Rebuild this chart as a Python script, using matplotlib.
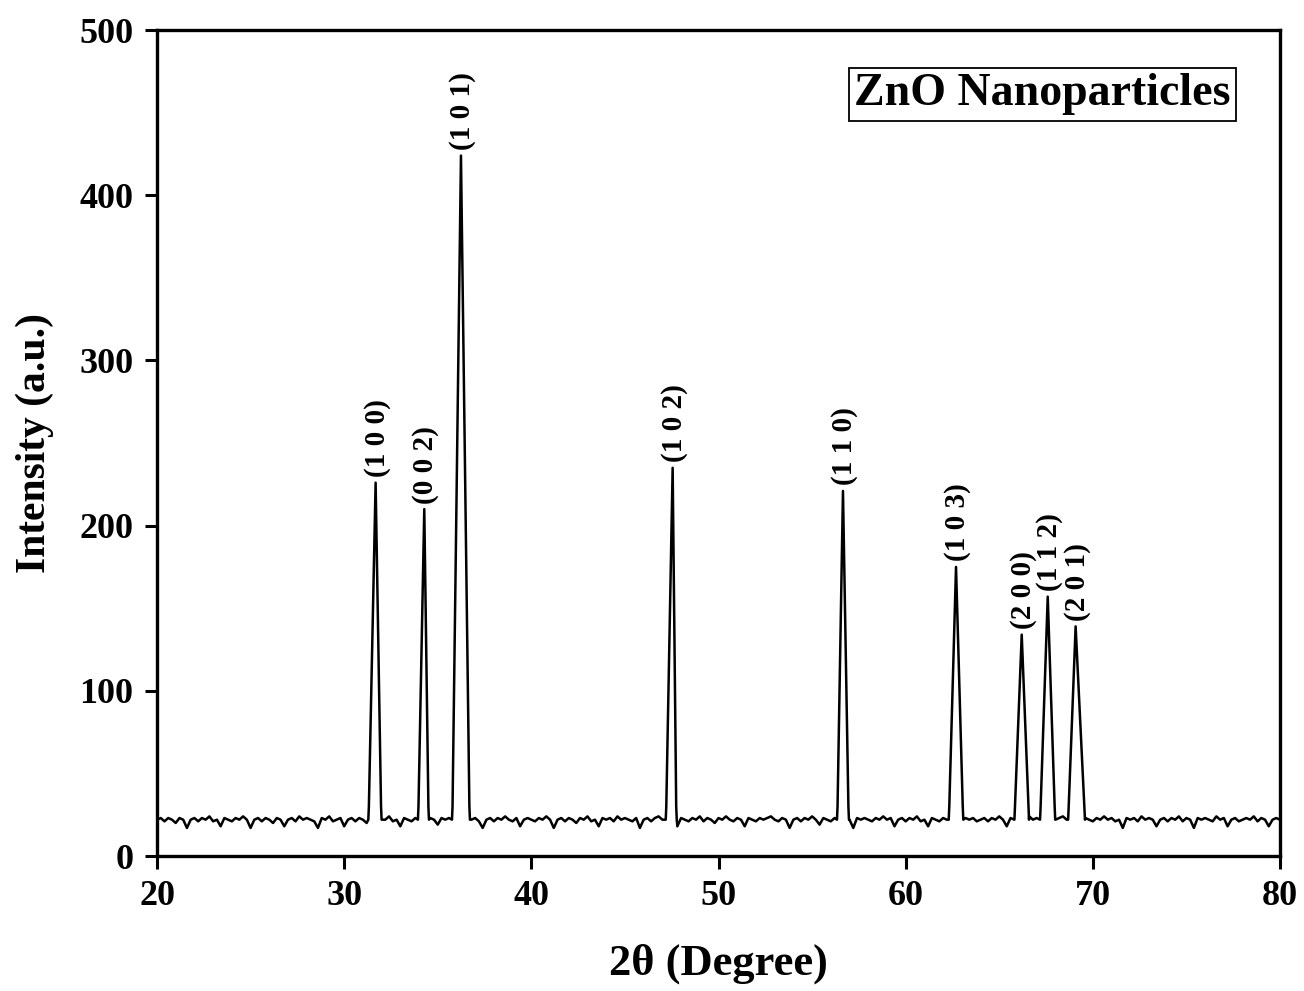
import numpy as np
import matplotlib
matplotlib.use("Agg")
import matplotlib.pyplot as plt

plt.rcParams['font.family'] = ['Liberation Serif', 'DejaVu Serif']
plt.rcParams['font.weight'] = 'bold'

# XRD peaks: hkl label, 2theta of apex, intensity, left/right foot
hkl = ['(1 0 0)', '(0 0 2)', '(1 0 1)', '(1 0 2)', '(1 1 0)', '(1 0 3)', '(2 0 0)', '(1 1 2)', '(2 0 1)']
pos = [31.68, 34.28, 36.24, 47.55, 56.65, 62.69, 66.20, 67.59, 69.08]
height = [226, 210, 424, 235, 221, 175, 134, 157, 139]
foot_l = [31.29, 33.94, 35.76, 47.18, 56.33, 62.30, 65.81, 67.18, 68.68]
foot_r = [32.00, 34.53, 36.72, 47.77, 56.97, 63.08, 66.59, 67.99, 69.58]

# background counts, every 0.2 degree from 20 to 80
baseline = [
    22, 23, 21, 23, 22, 20, 23, 22, 17, 22,
    23, 21, 23, 22, 24, 21, 22, 18, 23, 22,
    21, 23, 22, 24, 22, 17, 22, 23, 21, 23,
    22, 20, 23, 22, 18, 22, 23, 21, 24, 22,
    23, 22, 21, 17, 23, 22, 24, 21, 22, 23,
    18, 22, 23, 21, 23, 22, 20, 23, 17, 22,
    23, 22, 24, 21, 22, 18, 23, 22, 21, 23,
    22, 23, 21, 23, 22, 19, 23, 22, 23, 20,
    22, 24, 21, 23, 22, 23, 21, 17, 22, 23,
    21, 23, 22, 24, 22, 21, 23, 18, 22, 23,
    22, 21, 23, 22, 24, 22, 17, 22, 23, 21,
    23, 22, 20, 23, 22, 24, 21, 22, 18, 23,
    22, 23, 21, 24, 22, 23, 22, 21, 23, 17,
    22, 23, 21, 23, 24, 22, 23, 21, 22, 18,
    23, 22, 21, 23, 22, 24, 21, 23, 22, 20,
    23, 22, 24, 22, 21, 23, 22, 18, 23, 22,
    21, 23, 22, 23, 24, 22, 21, 23, 22, 17,
    22, 23, 21, 23, 22, 24, 22, 19, 23, 22,
    21, 23, 22, 24, 21, 22, 17, 23, 22, 23,
    22, 21, 23, 22, 24, 22, 23, 18, 22, 23,
    21, 23, 22, 24, 21, 22, 18, 23, 22, 21,
    23, 22, 24, 22, 21, 17, 23, 22, 23, 21,
    22, 23, 21, 23, 22, 24, 22, 18, 23, 22,
    23, 21, 22, 24, 22, 23, 17, 22, 23, 21,
    22, 23, 24, 22, 21, 23, 22, 18, 23, 22,
    21, 23, 22, 24, 22, 23, 21, 22, 17, 23,
    22, 23, 21, 24, 22, 23, 22, 18, 22, 23,
    21, 23, 22, 24, 21, 23, 22, 17, 23, 22,
    23, 22, 21, 24, 22, 23, 18, 22, 23, 21,
    22, 23, 22, 24, 21, 23, 22, 18, 22, 23,
    22,
]

x_base = 20 + 0.2 * np.arange(len(baseline))
y_base = np.array(baseline, dtype=float)

# drop background points that fall under a peak, then add the peak outlines
keep = np.ones(len(x_base), dtype=bool)
for l, r in zip(foot_l, foot_r):
    keep &= ~((x_base >= l) & (x_base <= r))
xs = list(x_base[keep])
ys = list(y_base[keep])
for p, h, l, r in zip(pos, height, foot_l, foot_r):
    xs += [l, l + 0.03, p, r - 0.03, r]
    ys += [22, 30, h, 30, 22]
order = np.argsort(xs)
xs = np.array(xs)[order]
ys = np.array(ys)[order]

fig = plt.figure(figsize=(13.04, 9.91), dpi=100)
ax = fig.add_axes([0.1204, 0.1362, 0.8612, 0.8335])
ax.plot(xs, ys, color='black', linewidth=1.8)

for lab, p, h in zip(hkl, pos, height):
    ax.annotate(lab, (p, h), xytext=(1, 4), textcoords='offset points',
                rotation=90, ha='center', va='bottom', fontsize=21, fontweight='bold')

ax.text(0.7885, 0.9225, 'ZnO Nanoparticles', transform=ax.transAxes,
        ha='center', va='center', fontsize=33, fontweight='bold',
        bbox=dict(boxstyle='square,pad=0.12', facecolor='white', edgecolor='black', linewidth=1.3))

ax.set_xlim(20, 80)
ax.set_ylim(0, 500)
ax.set_xticks(range(20, 81, 10))
ax.set_yticks(range(0, 501, 100))
ax.set_xlabel('2θ (Degree)', fontsize=32, fontweight='bold', labelpad=22)
ax.set_ylabel('Intensity (a.u.)', fontsize=30, fontweight='bold', labelpad=18)
ax.tick_params(axis='both', direction='out', length=9, width=2.2, labelsize=26, pad=8)
for s in ax.spines.values():
    s.set_linewidth(2.4)
    s.set_color('black')

fig.savefig('out.png', dpi=100)
